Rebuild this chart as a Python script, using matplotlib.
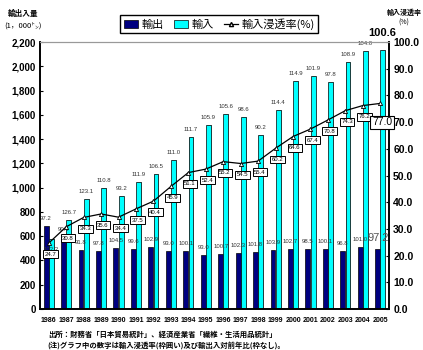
import numpy as np
import matplotlib.pyplot as plt
from matplotlib.lines import Line2D
from matplotlib.patches import Patch

plt.rcParams['font.family'] = ['Noto Sans CJK JP', 'DejaVu Sans']
NUM = ['Liberation Sans', 'Noto Sans CJK JP', 'DejaVu Sans']

# データ (1,000トン, %)
years = [str(y) for y in range(1986, 2006)]
exports = [686, 595, 488, 480, 504, 496, 513, 480, 480, 447,
           455, 463, 471, 488, 496, 496, 496, 480, 513, 496]
imports = [580, 736, 905, 1000, 934, 1045, 1110, 1232, 1420, 1515,
           1605, 1585, 1431, 1637, 1882, 1918, 1872, 2036, 2125, 2134]
rate = [24.7, 30.8, 34.3, 35.6, 34.4, 37.5, 40.4, 45.9, 51.1, 52.4,
        55.2, 54.5, 55.4, 60.2, 64.6, 67.4, 70.8, 74.3, 76.2, 77.0]
exp_yoy = ['97.2', '90.4', '91.8', '97.8', '104.5', '99.6', '102.9', '93.0', '100.1', '93.0',
           '100.7', '102.3', '101.8', '103.9', '102.7', '98.5', '100.1', '96.8', '101.0', '97.2']
imp_yoy = ['102.2', '126.7', '123.1', '110.8', '93.2', '111.9', '106.5', '111.0', '111.7', '105.9',
           '105.6', '98.6', '90.2', '114.4', '114.9', '101.9', '97.8', '108.9', '104.0', '100.6']

navy = '#000080'
cyan = '#00FFFF'

fig = plt.figure(figsize=(4.23, 3.5), dpi=100)
ax = fig.add_axes([0.0946, 0.117, 0.825, 0.763])
ax2 = ax.twinx()
x = np.arange(len(years))
w = 0.28

ax.bar(x + 0.2, imports, w, color='#b0b0b0', zorder=1)
ax.bar(x - 0.15, exports, w, color=navy, edgecolor='black', lw=0.5, zorder=2)
ax.bar(x + 0.15, imports, w, color=cyan, edgecolor='black', lw=0.5, zorder=2)

ax.set_xlim(-0.5, 19.5)
ax.set_ylim(0, 2200)
ax.set_yticks(range(0, 2201, 200))
ax.set_yticklabels([f'{v:,}' for v in range(0, 2201, 200)], family=NUM,
                   fontsize=7, fontweight='bold')
ax.set_xticks(x)
ax.set_xticklabels(years, family=NUM, fontsize=5, fontweight='bold')
ax.tick_params(axis='x', length=0, pad=6)
ax.tick_params(axis='y', direction='in', length=2, pad=3)

ax2.set_ylim(0, 100)
ax2.set_yticks(range(0, 101, 10))
ax2.set_yticklabels([f'{v:.1f}' for v in range(0, 101, 10)], family=NUM,
                    fontsize=7.5, fontweight='bold')
ax2.tick_params(axis='y', direction='in', length=2, pad=3)

for a in (ax, ax2):
    a.spines['top'].set_color('#999999')
    a.spines['left'].set_linewidth(1.2)
    a.spines['right'].set_linewidth(1.2)
    a.spines['bottom'].set_linewidth(1.2)

ax2.plot(x, rate, color='black', lw=0.9, marker='^', ms=3,
         mfc='white', mec='black', mew=0.6, zorder=5)

# 対前年比ラベル
for i in range(len(years)):
    if i == 19:
        continue
    if i == 0:
        ax.text(x[i] + 0.15, 470, imp_yoy[i], fontsize=4.3, ha='center',
                va='bottom', color='#333333', family=NUM)
    else:
        ax.text(x[i] + 0.15, imports[i] + 40, imp_yoy[i], fontsize=4.3,
                ha='center', va='bottom', color='#333333', family=NUM)
    ax.text(x[i] - 0.15, exports[i] + 40, exp_yoy[i], fontsize=4.3,
            ha='center', va='bottom', color='#333333', family=NUM)

ax.text(x[19] + 0.1, 2235, imp_yoy[19], fontsize=8, ha='center', va='bottom',
        fontweight='bold', family=NUM, clip_on=False)
ax.text(x[19] - 0.1, exports[19] + 50, exp_yoy[19], fontsize=8, ha='center',
        va='bottom', color='#555555', family=NUM)

# 輸入浸透率ラベル(枠囲い)
for i in range(len(years)):
    if i == 19:
        ax2.text(x[i] + 0.1, rate[i] - 7.0, f'{rate[i]:.1f}', fontsize=7.5,
                 ha='center', va='center', family=NUM, zorder=7,
                 bbox=dict(boxstyle='square,pad=0.15', fc='white', ec='black', lw=0.8))
    else:
        ax2.text(x[i] + 0.1, rate[i] - 4.2, f'{rate[i]:.1f}', fontsize=4.3,
                 ha='center', va='center', family=NUM, zorder=6,
                 bbox=dict(boxstyle='square,pad=0.25', fc='white', ec='black', lw=0.7))

handles = [Patch(fc=navy, ec='black', lw=0.5),
           Patch(fc=cyan, ec='black', lw=0.5),
           Line2D([], [], color='black', lw=0.9, marker='^', ms=3, mfc='white', mec='black')]
fig.legend(handles, ['輸出', '輸入', '輸入浸透率(%)'], loc='center',
           bbox_to_anchor=(0.518, 0.931), ncol=3, fontsize=8, frameon=True,
           fancybox=False, edgecolor='black', handlelength=1.3, handletextpad=0.3,
           columnspacing=0.9, borderpad=0.3, framealpha=1)

fig.text(0.055, 0.955, '輸出入量', fontsize=5.5, fontweight='bold', ha='center')
fig.text(0.055, 0.922, '(1，000㌧)', fontsize=5.5, ha='center')
fig.text(0.955, 0.958, '輸入浸透率', fontsize=5, fontweight='bold', ha='center')
fig.text(0.955, 0.93, '(%)', fontsize=5, ha='center')

fig.text(0.113, 0.037, '出所：財務省「日本貿易統計」、経済産業省「繊維・生活用品統計」',
         fontsize=5.3, fontweight='bold')
fig.text(0.113, 0.008, '(注)グラフ中の数字は輸入浸透率(枠囲い)及び輸出入対前年比(枠なし)。',
         fontsize=5.3, fontweight='bold')

fig.savefig('out.png', dpi=100)
